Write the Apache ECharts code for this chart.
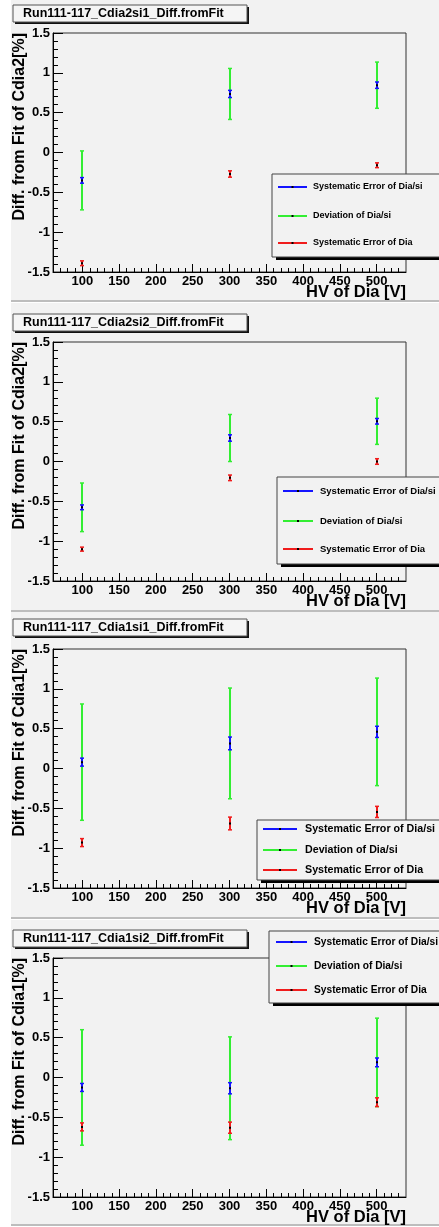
<!DOCTYPE html>
<html>
<head>
<meta charset="utf-8">
<script src="https://cdn.jsdelivr.net/npm/echarts@6/dist/echarts.min.js"></script>
<style>
  html, body { margin: 0; padding: 0; background: #ffffff; }
  #chart { width: 439px; height: 1227px; }
</style>
</head>
<body>
<div id="chart"></div>
<script>
// ---- data ----------------------------------------------------------------
const hv = [100, 300, 500];                       // HV of Dia [V]
const xTickValues = [100, 150, 200, 250, 300, 350, 400, 450, 500];
const yTickValues = [-1.5, -1, -0.5, 0, 0.5, 1, 1.5];

const panelTitles = [
  'Run111-117_Cdia2si1_Diff.fromFit',
  'Run111-117_Cdia2si2_Diff.fromFit',
  'Run111-117_Cdia1si1_Diff.fromFit',
  'Run111-117_Cdia1si2_Diff.fromFit'
];
const yTitles = [
  'Diff. from Fit of Cdia2[%]',
  'Diff. from Fit of Cdia2[%]',
  'Diff. from Fit of Cdia1[%]',
  'Diff. from Fit of Cdia1[%]'
];
const entryNames = ['Systematic Error of Dia/si', 'Deviation of Dia/si', 'Systematic Error of Dia'];

// Cdia2 / si1
const diaSi_c2s1    = [-0.35, 0.735, 0.845];
const sysDiaSi_c2s1 = [0.035, 0.045, 0.04];
const devDiaSi_c2s1 = [0.37, 0.32, 0.29];
const dia_c2s1      = [-1.39, -0.27, -0.16];
const sysDia_c2s1   = [0.03, 0.04, 0.03];

// Cdia2 / si2
const diaSi_c2s2    = [-0.575, 0.295, 0.505];
const sysDiaSi_c2s2 = [0.03, 0.04, 0.035];
const devDiaSi_c2s2 = [0.305, 0.295, 0.29];
const dia_c2s2      = [-1.10, -0.205, 0.0];
const sysDia_c2s2   = [0.025, 0.035, 0.035];

// Cdia1 / si1
const diaSi_c1s1    = [0.08, 0.315, 0.46];
const sysDiaSi_c1s1 = [0.05, 0.08, 0.07];
const devDiaSi_c1s1 = [0.73, 0.695, 0.675];
const dia_c1s1      = [-0.93, -0.69, -0.545];
const sysDia_c1s1   = [0.05, 0.08, 0.07];

// Cdia1 / si2
const diaSi_c1s2    = [-0.125, -0.135, 0.19];
const sysDiaSi_c1s2 = [0.05, 0.07, 0.055];
const devDiaSi_c1s2 = [0.725, 0.645, 0.555];
const dia_c1s2      = [-0.62, -0.63, -0.31];
const sysDia_c1s2   = [0.05, 0.07, 0.055];

// ---- layout & style ------------------------------------------------------
const FONT = '"Liberation Sans", Arial, Helvetica, sans-serif';
const COL = { blue: '#1414ff', green: '#33ee33', red: '#f01c1c' };
const BG = '#f2f2f2';
const FRAME_LEFT = 53, FRAME_W = 353, FRAME_H = 239;
const X_MIN = 60, X_MAX = 540;

const panelY0 = [0, 303, 612, 920];
const panelY1 = [301, 611, 918, 1225];
const frameTop = [33, 342, 649, 958];
const titleBoxY = [5, 314, 619, 930];
const legendBox = [
  { x: 272, y: 174, h: 83, font: 9,    rows: [187, 216, 243], l0: 278, l1: 307, tx: 313 },
  { x: 277, y: 477, h: 87, font: 9.5,  rows: [491, 521, 549], l0: 283, l1: 313, tx: 320 },
  { x: 257, y: 820, h: 60, font: 10.7, rows: [829, 850, 870], l0: 263, l1: 297, tx: 305 },
  { x: 269, y: 931, h: 72, font: 10.2, rows: [942, 966, 990], l0: 276, l1: 307, tx: 314 }
];

const panels = [
  { diaSi: diaSi_c2s1, sys: sysDiaSi_c2s1, dev: devDiaSi_c2s1, dia: dia_c2s1, sysDia: sysDia_c2s1 },
  { diaSi: diaSi_c2s2, sys: sysDiaSi_c2s2, dev: devDiaSi_c2s2, dia: dia_c2s2, sysDia: sysDia_c2s2 },
  { diaSi: diaSi_c1s1, sys: sysDiaSi_c1s1, dev: devDiaSi_c1s1, dia: dia_c1s1, sysDia: sysDia_c1s1 },
  { diaSi: diaSi_c1s2, sys: sysDiaSi_c1s2, dev: devDiaSi_c1s2, dia: dia_c1s2, sysDia: sysDia_c1s2 }
];

const minorXTicks = [];
for (let v = 70; v <= 530; v += 10) if (v % 50 !== 0) minorXTicks.push(v);

// vertical error bar with end caps and a black centre marker
function errorBar(color) {
  return function (params, api) {
    const x = api.value(0), y = api.value(1), e = api.value(2);
    const top = api.coord([x, y + e]);
    const bot = api.coord([x, y - e]);
    const mid = api.coord([x, y]);
    const px = Math.round(mid[0]);
    return {
      type: 'group',
      children: [
        { type: 'line', shape: { x1: px, y1: top[1], x2: px, y2: bot[1] }, style: { stroke: color, lineWidth: 2 } },
        { type: 'line', shape: { x1: px - 2, y1: top[1], x2: px + 2, y2: top[1] }, style: { stroke: color, lineWidth: 1.5 } },
        { type: 'line', shape: { x1: px - 2, y1: bot[1], x2: px + 2, y2: bot[1] }, style: { stroke: color, lineWidth: 1.5 } },
        { type: 'rect', shape: { x: px - 1, y: mid[1] - 1, width: 2, height: 2 }, style: { fill: '#000' } }
      ]
    };
  };
}

const grids = [], xAxes = [], yAxes = [], series = [], graphics = [];

panels.forEach((p, i) => {
  grids.push({
    left: FRAME_LEFT, top: frameTop[i], width: FRAME_W, height: FRAME_H,
    show: true, borderColor: '#333', borderWidth: 1, backgroundColor: 'transparent'
  });
  // major ticks + labels
  xAxes.push({
    gridIndex: i, type: 'value', position: 'bottom', min: X_MIN, max: X_MAX,
    axisLine: { show: true, onZero: false, lineStyle: { color: '#000', width: 1 } },
    axisTick: { show: true, inside: true, length: 8, customValues: xTickValues, lineStyle: { color: '#000' } },
    axisLabel: { show: true, customValues: xTickValues, margin: 3, color: '#000',
      fontFamily: FONT, fontWeight: 'bold', fontSize: 13 },
    splitLine: { show: false }
  });
  // minor ticks
  xAxes.push({
    gridIndex: i, type: 'value', position: 'bottom', min: X_MIN, max: X_MAX,
    axisLine: { show: false, onZero: false },
    axisTick: { show: true, inside: true, length: 4, customValues: minorXTicks, lineStyle: { color: '#000' } },
    axisLabel: { show: false },
    splitLine: { show: false }
  });
  yAxes.push({
    gridIndex: i, type: 'value',
    min: yTickValues[0], max: yTickValues[yTickValues.length - 1], interval: 0.5,
    axisLine: { show: true, onZero: false, lineStyle: { color: '#000', width: 1 } },
    axisTick: { show: true, inside: true, length: 10, lineStyle: { color: '#000' } },
    minorTick: { show: true, splitNumber: 5, length: 5, lineStyle: { color: '#000' } },
    axisLabel: { margin: 3, color: '#000', fontFamily: FONT, fontWeight: 'bold', fontSize: 13 },
    splitLine: { show: false }
  });

  const xi = 2 * i;
  const mk = (vals, errs) => hv.map((x, k) => [x, vals[k], errs[k]]);
  series.push(
    { type: 'custom', name: entryNames[1], xAxisIndex: xi, yAxisIndex: i, renderItem: errorBar(COL.green), data: mk(p.diaSi, p.dev), z: 3 },
    { type: 'custom', name: entryNames[0], xAxisIndex: xi, yAxisIndex: i, renderItem: errorBar(COL.blue), data: mk(p.diaSi, p.sys), z: 4 },
    { type: 'custom', name: entryNames[2], xAxisIndex: xi, yAxisIndex: i, renderItem: errorBar(COL.red), data: mk(p.dia, p.sysDia), z: 5 }
  );

  // pad background and separator
  graphics.push({ type: 'rect', z: -20, shape: { x: 11, y: panelY0[i], width: 428, height: panelY1[i] - panelY0[i] }, style: { fill: BG } });
  graphics.push({ type: 'rect', z: -19, shape: { x: 11, y: panelY1[i] - 1, width: 428, height: 2 }, style: { fill: '#bdbdbd' } });

  // title box
  graphics.push({ type: 'rect', z: 50, shape: { x: 15, y: titleBoxY[i] + 2, width: 234, height: 17 }, style: { fill: '#111' } });
  graphics.push({ type: 'rect', z: 51, shape: { x: 13, y: titleBoxY[i], width: 234, height: 17 }, style: { fill: '#f5f5f5', stroke: '#555', lineWidth: 1 } });
  graphics.push({ type: 'text', z: 52, x: 23, y: titleBoxY[i] + 9,
    style: { text: panelTitles[i], fill: '#000', font: 'bold 12.5px ' + FONT, textAlign: 'left', textVerticalAlign: 'middle' } });

  // axis titles
  graphics.push({ type: 'text', z: 10, x: 20, y: frameTop[i], rotation: Math.PI / 2,
    style: { text: yTitles[i], fill: '#000', font: 'bold 16px ' + FONT, textAlign: 'right', textVerticalAlign: 'middle' } });
  graphics.push({ type: 'text', z: 10, x: FRAME_LEFT + FRAME_W, y: frameTop[i] + 259,
    style: { text: 'HV of Dia [V]', fill: '#000', font: 'bold 16.5px ' + FONT, textAlign: 'right', textVerticalAlign: 'middle' } });

  // legend
  const L = legendBox[i];
  graphics.push({ type: 'rect', z: 60, shape: { x: L.x + 4, y: L.y + 3, width: 200, height: L.h }, style: { fill: '#000' } });
  graphics.push({ type: 'rect', z: 61, shape: { x: L.x, y: L.y, width: 200, height: L.h }, style: { fill: BG, stroke: '#444', lineWidth: 1 } });
  const legendCols = [COL.blue, COL.green, COL.red];
  entryNames.forEach((name, k) => {
    const ry = L.rows[k];
    graphics.push({ type: 'line', z: 62, shape: { x1: L.l0, y1: ry, x2: L.l1, y2: ry }, style: { stroke: legendCols[k], lineWidth: 2 } });
    graphics.push({ type: 'rect', z: 63, shape: { x: (L.l0 + L.l1) / 2 - 1, y: ry - 1, width: 2, height: 2 }, style: { fill: '#000' } });
    graphics.push({ type: 'text', z: 63, x: L.tx, y: ry,
      style: { text: name, fill: '#000', font: 'bold ' + L.font + 'px ' + FONT, textAlign: 'left', textVerticalAlign: 'middle' } });
  });
});

const chart = echarts.init(document.getElementById('chart'), null, { renderer: 'canvas' });
chart.setOption({
  animation: false,
  backgroundColor: '#ffffff',
  grid: grids,
  xAxis: xAxes,
  yAxis: yAxes,
  series: series,
  graphic: { elements: graphics }
});
</script>
</body>
</html>
